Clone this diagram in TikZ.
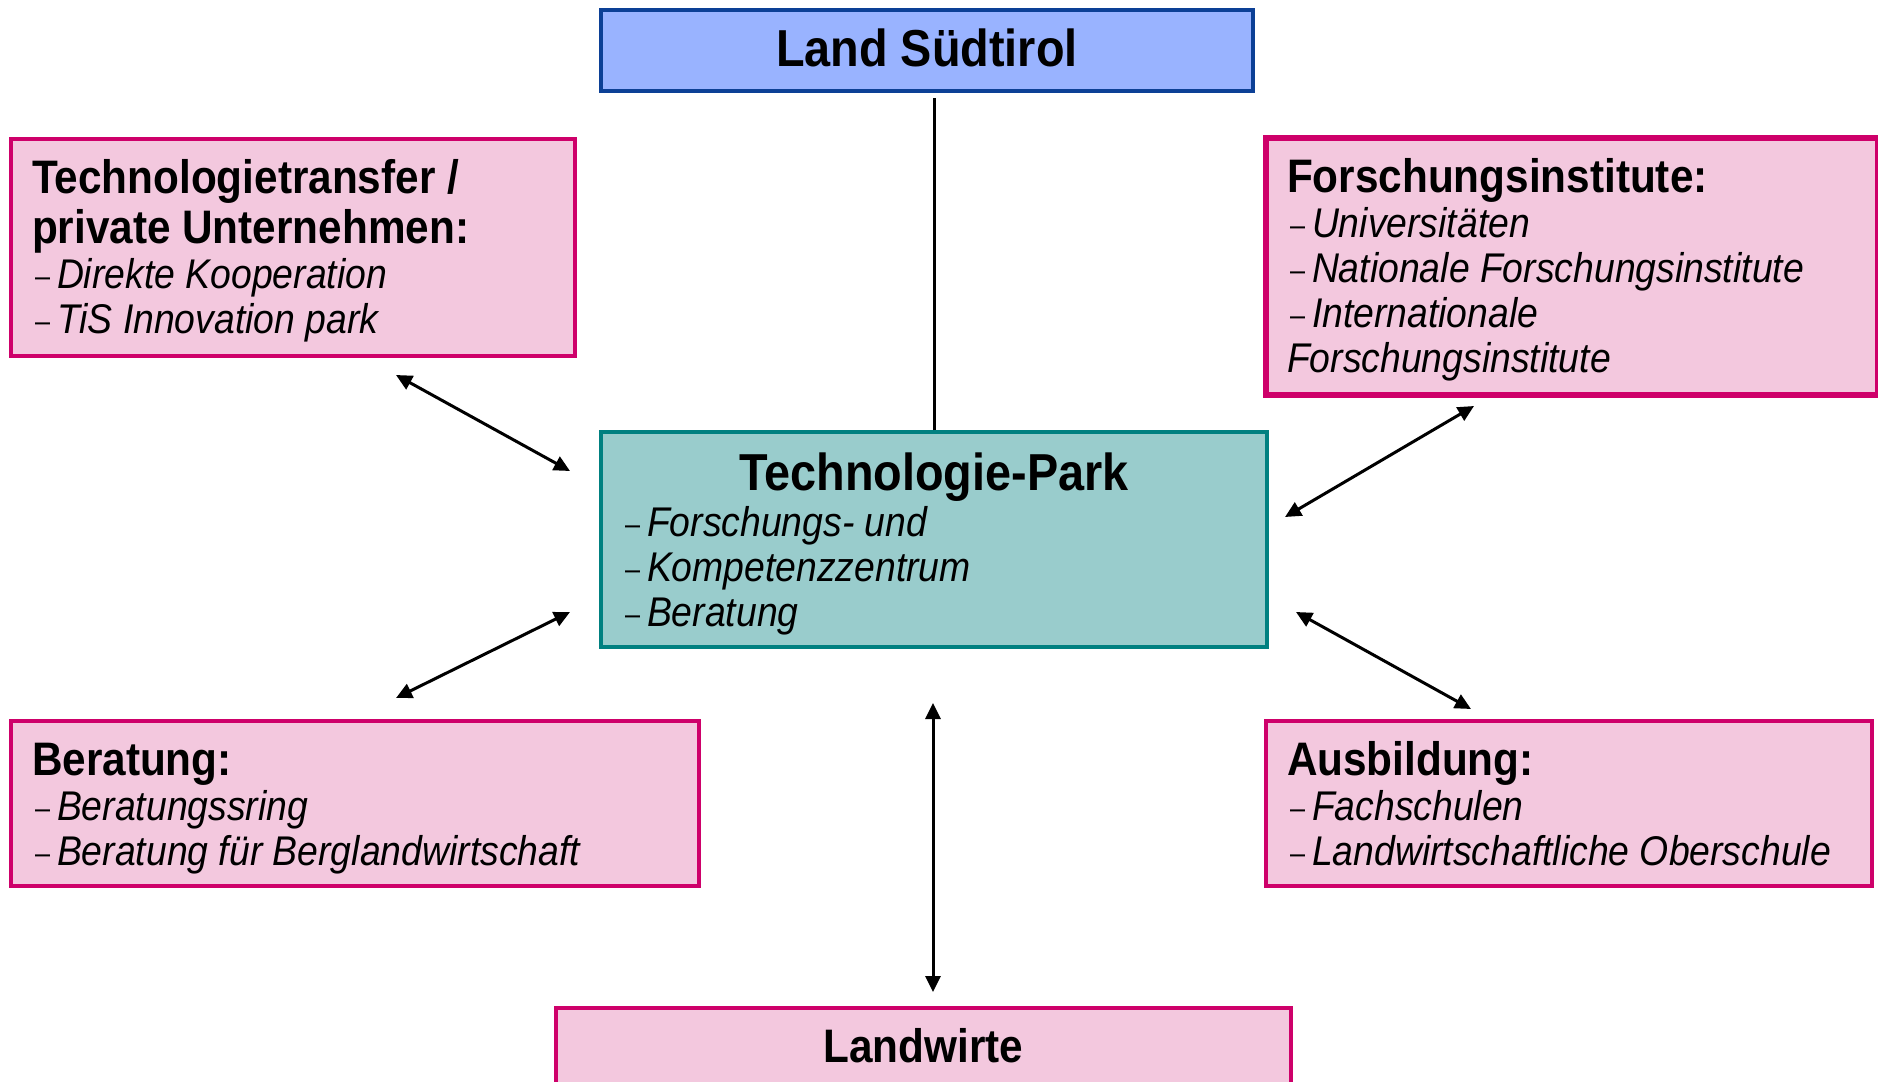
\documentclass[tikz,border=0pt]{standalone}
\usepackage{fontspec}
\setmainfont{Liberation Sans}[FakeStretch=0.9]
\usetikzlibrary{arrows.meta}
\definecolor{blueFill}{RGB}{153,179,255}
\definecolor{blueLine}{RGB}{12,64,150}
\definecolor{tealFill}{RGB}{153,204,204}
\definecolor{tealLine}{RGB}{0,128,128}
\definecolor{pinkFill}{RGB}{243,200,222}
\definecolor{pinkLine}{RGB}{206,0,106}
% header line(s): first baseline 54pt below box top
\newcommand{\hdline}[1]{{\fontsize{47}{50}\selectfont\bfseries\spaceskip=0.25em plus 0.1em\relax\noindent\rule{0pt}{54pt}#1\par}\vspace{1pt}}
\newcommand{\itm}[1]{{\fontsize{41.5}{44.8}\selectfont\spaceskip=0.25em plus 0.1em\relax\noindent\makebox[25pt][l]{\hspace{3pt}\raisebox{2pt}{\fontsize{30}{30}\selectfont –}}\itshape #1\par}}
\newcommand{\boxtext}[3]{\parbox[c][#1][t]{#2}{\raggedright #3}}
\tikzset{
  box/.style={rectangle, inner xsep=21pt, inner ysep=0pt},
  pinkbox/.style={box, draw=pinkLine, fill=pinkFill, line width=3.5pt},
  conn/.style={line width=3pt, arrows={Triangle[length=16pt,width=15pt]-Triangle[length=16pt,width=15pt]}},
  plain/.style={line width=3pt}
}
\begin{document}
\begin{tikzpicture}[x=1pt,y=-1pt]
\fill[white] (0,0) rectangle (1878,1081);
\useasboundingbox (0,0) rectangle (1878,1081);

% Land Suedtirol
\node[rectangle, draw=blueLine, fill=blueFill, line width=3.5pt, minimum width=652pt, minimum height=81pt, inner sep=0pt,
      text depth=5pt, font={\fontsize{52}{55}\selectfont\bfseries}] (land) at (927,50.5) {Land Südtirol};

% Technologietransfer
\node[pinkbox, minimum width=564pt, minimum height=217pt] (tt) at (293,247.5)
 {\boxtext{217pt}{522pt}{\hdline{Technologietransfer /\\private Unternehmen:}\itm{Direkte Kooperation}\itm{TiS Innovation park}}};

% Forschungsinstitute
\node[pinkbox, line width=6pt, minimum width=612pt, minimum height=257pt] (fi) at (1572,266.5)
 {\boxtext{257pt}{570pt}{\hdline{Forschungsinstitute:}\itm{Universitäten}\itm{Nationale Forschungsinstitute}\itm{Internationale\\Forschungsinstitute}}};

% Technologie-Park
\node[box, draw=tealLine, fill=tealFill, line width=3.5pt, minimum width=666pt, minimum height=215pt] (tp) at (934,539.5)
 {\boxtext{215pt}{624pt}{{\fontsize{52}{55}\selectfont\bfseries\centering\rule{0pt}{58.6pt}Technologie-Park\par}\vspace{1.5pt}\itm{Forschungs- und}\itm{Kompetenzzentrum}\itm{Beratung}}};

% Beratung
\node[pinkbox, minimum width=688pt, minimum height=165pt] (be) at (355,803.5)
 {\boxtext{165pt}{646pt}{\hdline{Beratung:}\itm{Beratungssring}\itm{Beratung für Berglandwirtschaft}}};

% Ausbildung
\node[pinkbox, minimum width=606pt, minimum height=165pt] (au) at (1569,803.5)
 {\boxtext{165pt}{564pt}{\hdline{Ausbildung:}\itm{Fachschulen}\itm{Landwirtschaftliche Oberschule}}};

% Landwirte
\node[rectangle, draw=pinkLine, fill=pinkFill, line width=3.5pt, minimum width=735pt, minimum height=76pt, inner sep=0pt,
      font={\fontsize{47}{50}\selectfont\bfseries}] (lw) at (923.5,1046) {Landwirte};

% connector coordinates
\coordinate (a1) at (396,375);  \coordinate (a2) at (570,471);
\coordinate (b1) at (1474,406); \coordinate (b2) at (1285,517);
\coordinate (c1) at (570,612);  \coordinate (c2) at (396,698);
\coordinate (d1) at (1296,612); \coordinate (d2) at (1471,709);
\coordinate (e1) at (933,703);  \coordinate (e2) at (933,992);

\draw[plain, shorten >=5pt] (tp.north) -- (tp.north |- land.south);
\draw[conn] (a1) -- (a2);
\draw[conn] (b1) -- (b2);
\draw[conn] (c1) -- (c2);
\draw[conn] (d1) -- (d2);
\draw[conn] (e1) -- (e2);
\end{tikzpicture}
\end{document}
